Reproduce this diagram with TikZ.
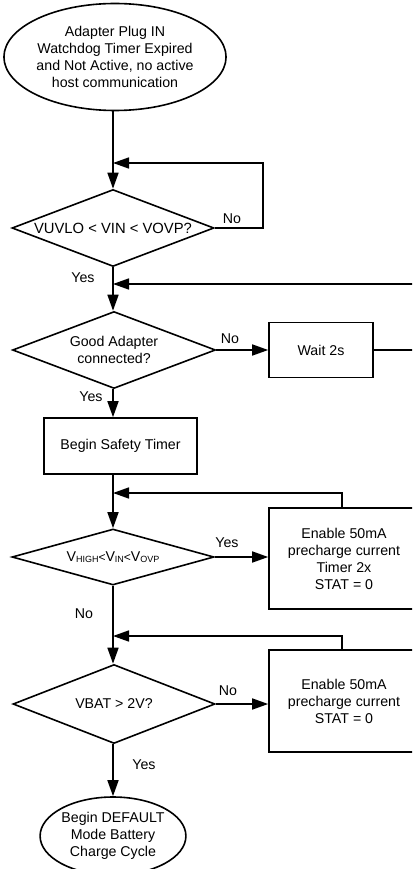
\documentclass[tikz,border=0pt]{standalone}
\usepackage{fontspec}
\setmainfont{Liberation Sans}
\usetikzlibrary{shapes.geometric,arrows.meta}
\newcommand{\subt}[1]{\raisebox{-1.2pt}{\fontsize{9}{9}\selectfont #1}}
\begin{document}
\begin{tikzpicture}[x=1pt,y=-1pt,
  every node/.style={font=\fontsize{14.2}{17}\selectfont},
  conn/.style={line width=1.6pt},
  arr/.style={conn,-{Triangle[length=16pt,width=11pt]}},
  dec/.style={draw,line width=1.6pt,shape=diamond,inner sep=0pt,align=center},
  term/.style={draw,line width=1.6pt,ellipse,inner sep=0pt,align=center},
  proc/.style={draw,line width=1.6pt,rectangle,inner sep=0pt,align=center},
  lbl/.style={anchor=base,inner sep=0pt}]
\useasboundingbox (0,0) rectangle (412,869);
\fill[white] (0,0) rectangle (412,869);
\clip (0,0) rectangle (412,869);

\node[term,minimum width=178pt,minimum height=107pt] (start) at (115,57)
  {Adapter Plug IN\\Watchdog Timer Expired\\and Not Active, no active\\host communication};
\node[dec,shape aspect=2.62,minimum width=202pt,minimum height=77pt,font=\fontsize{14.8}{17}\selectfont] (d1) at (113,228) {VUVLO < VIN < VOVP?};
\node[dec,shape aspect=2.62,minimum width=203pt,minimum height=77pt] (d2) at (114,350) {Good Adapter\\connected?};
\node[proc,minimum width=104pt,minimum height=55pt] (wait) at (321,350) {Wait 2s};
\node[proc,minimum width=153pt,minimum height=56pt] (safe) at (120.5,446) {Begin Safety Timer};
\node[dec,shape aspect=3.6,minimum width=202pt,minimum height=56pt] (d3) at (113,557)
  {V\subt{HIGH}{\fontsize{12}{12}\selectfont<}V\subt{IN}{\fontsize{12}{12}\selectfont<}V\subt{OVP}};
\node[proc,minimum width=150pt,minimum height=101pt] (en1) at (344,558.5)
  {Enable 50mA\\precharge current\\Timer 2x\\STAT = 0};
\node[dec,shape aspect=2.56,minimum width=202pt,minimum height=79pt] (d4) at (114,704) {VBAT > 2V?};
\node[proc,minimum width=150pt,minimum height=102pt] (en2) at (344,701)
  {Enable 50mA\\precharge current\\STAT = 0};
\node[term,minimum width=144pt,minimum height=78pt] (endn) at (113,836)
  {Begin DEFAULT\\Mode Battery\\Charge Cycle};

\coordinate (fb1) at (263,163);
\coordinate (ret) at (420,284);
\coordinate (ret2) at (420,350);
\coordinate (fb3) at (342,493);
\coordinate (fb4) at (342,636);

\draw[arr] (start.south -| d1.north) -- (d1.north);
\draw[arr] (d1.east) -| (fb1) -- (fb1 -| d1.north);
\draw[arr] (d1.south) -- (d1.south |- d2.north);
\draw[arr] (ret) -- (ret -| d1.north);
\draw[arr] (d2.east) -- (wait.west);
\draw[conn] (wait.east) -- (ret2);
\draw[arr] (d1.south |- d2.south) -- (d1.south |- safe.north);
\draw[arr] (d1.south |- safe.south) -- (d3.north);
\draw[arr] (fb3 |- en1.north) -- (fb3) -- (fb3 -| d3.north);
\draw[arr] (d3.east) -- (d3.east -| en1.west);
\draw[arr] (d3.south) -- (d3.south |- d4.north);
\draw[arr] (fb4 |- en2.north) -- (fb4) -- (fb4 -| d3.north);
\draw[arr] (d4.east) -- (d4.east -| en2.west);
\draw[arr] (d3.south |- d4.south) -- (endn.north);

\node[lbl] (l1) at (232,223) {No};
\node[lbl] (l2) at (83,282) {Yes};
\node[lbl] (l3) at (230,343) {No};
\node[lbl] (l4) at (91,401) {Yes};
\node[lbl] (l5) at (227,547) {Yes};
\node[lbl] (l6) at (84,618) {No};
\node[lbl] (l7) at (228,695) {No};
\node[lbl] (l8) at (144,769) {Yes};
\end{tikzpicture}
\end{document}
